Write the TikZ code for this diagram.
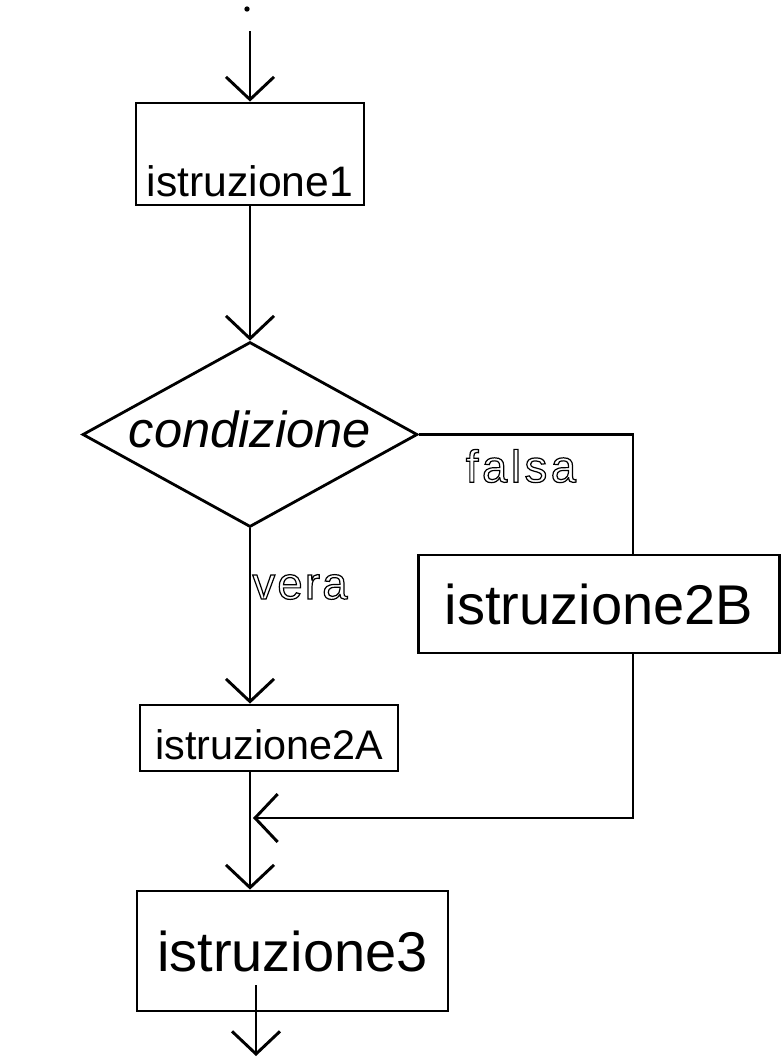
\documentclass[tikz,border=0pt]{standalone}
\usepackage{fontspec}
\setmainfont{Liberation Sans}
\usetikzlibrary{arrows.meta,shapes.geometric}

% text set on a zero-height box, baseline #1 below the node centre
\newcommand\dropped[2]{\raisebox{-#1}[0pt][0pt]{#2}}
% outlined (stroked, unfilled) lettering
\newcommand\outlined[1]{\special{pdf:literal direct 1 Tr 0.9 w}#1\special{pdf:literal direct 0 Tr}}

\tikzset{
  ln/.style={line width=2.2pt},
  arr/.style={ln, -{Straight Barb[length=17pt,width=36pt,line width=2.2pt]}},
  stmt/.style={draw, rectangle, line width=2.1pt, inner sep=0pt},
  cond/.style={draw, diamond, line width=2.1pt, inner sep=0pt, aspect=1.8},
  hollow/.style={inner sep=0pt, font=\fontsize{34}{34}\selectfont\addfontfeature{LetterSpace=8}}
}

\begin{document}
\begin{tikzpicture}[x=0.75pt,y=-0.75pt]
\useasboundingbox (0,0) rectangle (783,1058);

% entry point
\node[circle, fill, inner sep=0pt, minimum size=4pt] (dot) at (247,9) {};
\coordinate (start) at (250,31);

% statements and the decision
\node[stmt, minimum width=0.75*228pt, minimum height=0.75*102pt,
      font=\fontsize{32}{32}\selectfont] (box1) at (250,154)
      {\dropped{32pt}{istruzione1}};
\node[cond, minimum width=0.75*335pt, minimum height=0.75*185pt,
      font=\fontsize{38}{38}\selectfont\itshape] (dia) at (250,434.5)
      {\dropped{10pt}{condizione}};
\node[stmt, minimum width=0.75*361pt, minimum height=0.75*98pt,
      font=\fontsize{42}{42}\selectfont] (box2B) at (599,604)
      {\dropped{15pt}{istruzione2B}};
\node[stmt, minimum width=0.75*258pt, minimum height=0.75*66pt,
      font=\fontsize{31}{31}\selectfont] (box2A) at (269,738)
      {\dropped{16pt}{istruzione2A}};
\node[stmt, minimum width=0.75*311pt, minimum height=0.75*120pt,
      font=\fontsize{42}{42}\selectfont] (box3) at (292.5,951)
      {\dropped{15pt}{istruzione3}};

% routing points
\coordinate (fcorner) at (633,434.5);
\coordinate (merge) at (253,818);
\coordinate (outstart) at (256,985);
\coordinate (outend) at (256,1056);

% connectors
\draw[arr] (start) -- (box1.north);
\draw[arr] (box1.south) -- (dia.north);
\draw[ln] (dia.east) -- (fcorner) -- (fcorner |- box2B.north);
\draw[arr] (dia.south) -- (dia.south |- box2A.north);
\draw[arr] (box2B.south -| fcorner) |- (merge);
\draw[arr] (dia.south |- box2A.south) -- (dia.south |- box3.north);
\draw[arr] (outstart) -- (outend);

% branch labels
\node[hollow] (lfalse) at (521,466) {\outlined{falsa}};
\node[hollow, font=\fontsize{34}{34}\selectfont\addfontfeature{LetterSpace=5}]
      (ltrue) at (300,587) {\outlined{vera}};
\end{tikzpicture}
\end{document}
